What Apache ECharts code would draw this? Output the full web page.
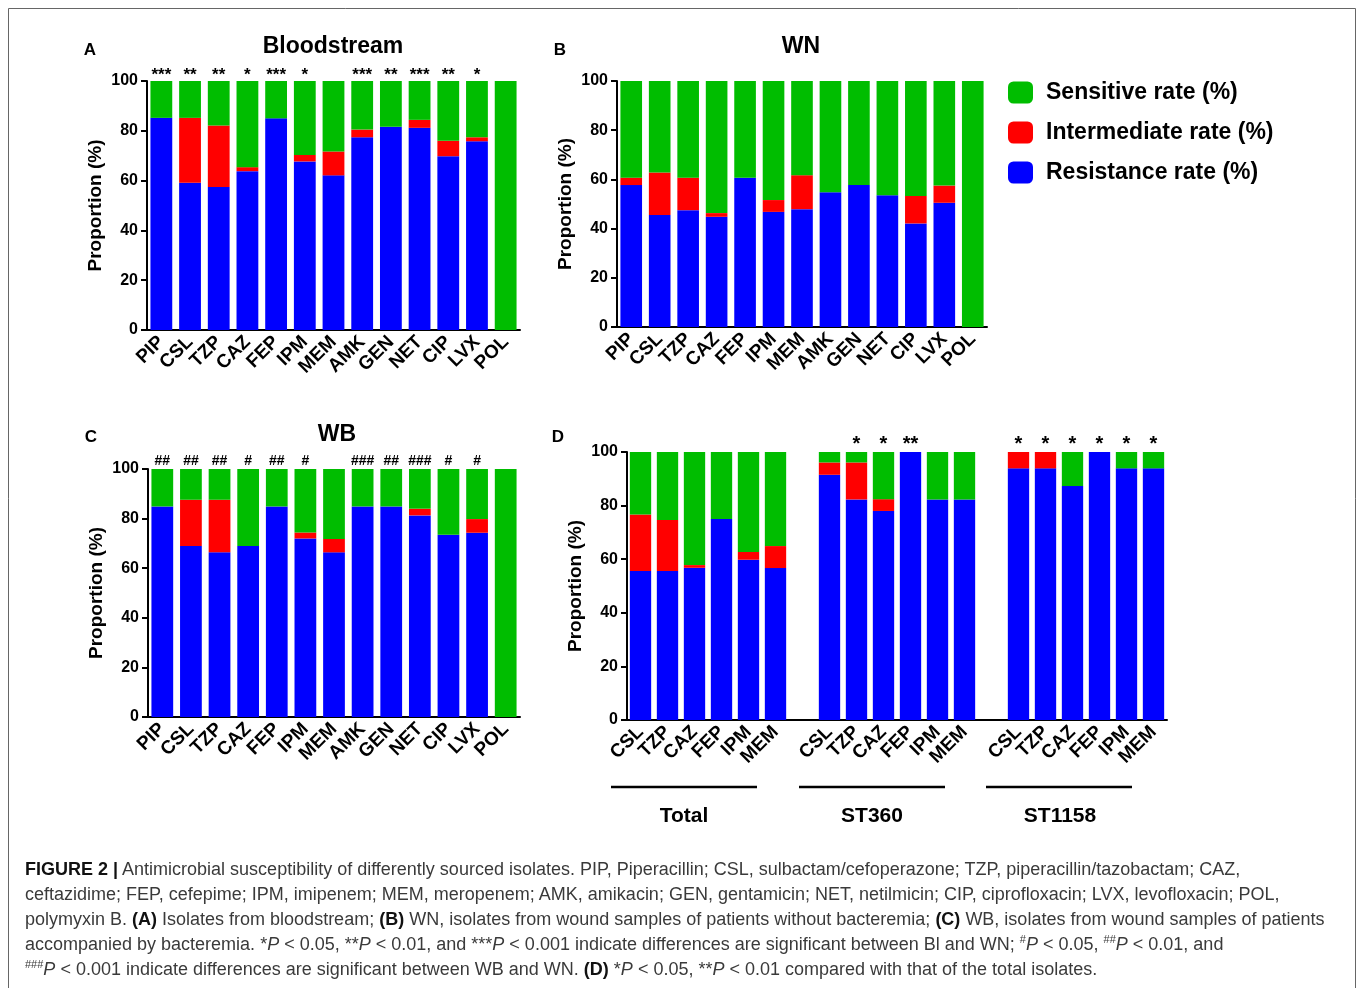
<!DOCTYPE html>
<html>
<head>
<meta charset="utf-8">
<script src="https://cdn.jsdelivr.net/npm/echarts@6/dist/echarts.min.js"></script>
<style>
  body { margin: 0; background: #fff; }
  #chart { position: absolute; left: 0; top: 0; width: 1358px; height: 988px; }
  #caption {
    position: absolute; left: 25px; top: 857px;
    font-family: "Liberation Sans", Arial, sans-serif; font-size: 18px; line-height: 25px;
    color: #3a3a3a; white-space: nowrap;
  }
  #caption b { color: #111; }
  #caption sup { font-size: 11px; line-height: 0; }
</style>
</head>
<body>
<div id="chart"></div>
<div id="caption">
<b>FIGURE 2 |</b> Antimicrobial susceptibility of differently sourced isolates. PIP, Piperacillin; CSL, sulbactam/cefoperazone; TZP, piperacillin/tazobactam; CAZ,<br>
ceftazidime; FEP, cefepime; IPM, imipenem; MEM, meropenem; AMK, amikacin; GEN, gentamicin; NET, netilmicin; CIP, ciprofloxacin; LVX, levofloxacin; POL,<br>
polymyxin B. <b>(A)</b> Isolates from bloodstream; <b>(B)</b> WN, isolates from wound samples of patients without bacteremia; <b>(C)</b> WB, isolates from wound samples of patients<br>
accompanied by bacteremia. *<i>P</i> &lt; 0.05, **<i>P</i> &lt; 0.01, and ***<i>P</i> &lt; 0.001 indicate differences are significant between Bl and WN; <sup>#</sup><i>P</i> &lt; 0.05, <sup>##</sup><i>P</i> &lt; 0.01, and<br>
<sup>###</sup><i>P</i> &lt; 0.001 indicate differences are significant between WB and WN. <b>(D)</b> *<i>P</i> &lt; 0.05, **<i>P</i> &lt; 0.01 compared with that of the total isolates.
</div>
<script>
// drug names for panels A-C
const drugs = ['PIP', 'CSL', 'TZP', 'CAZ', 'FEP', 'IPM', 'MEM', 'AMK', 'GEN', 'NET', 'CIP', 'LVX', 'POL'];
const yTicks = [0, 20, 40, 60, 80, 100];

// A: bloodstream
const bloodRes = [85.2, 59.1, 57.4, 63.8, 85.0, 67.7, 62.1, 77.4, 81.6, 81.2, 69.8, 75.8, 0];
const bloodInt = [0, 26.1, 24.7, 1.6, 0, 2.6, 9.6, 3.1, 0, 3.2, 6.2, 1.6, 0];
const bloodSen = [14.8, 14.8, 17.9, 34.6, 15.0, 29.7, 28.3, 19.5, 18.4, 15.6, 24.0, 22.6, 100];
const bloodSig = ['***', '**', '**', '*', '***', '*', '', '***', '**', '***', '**', '*', ''];

// B: WN
const wnRes = [57.7, 45.5, 47.5, 44.8, 60.7, 46.8, 47.9, 54.8, 57.7, 53.6, 42.1, 50.5, 0];
const wnInt = [3.0, 17.3, 13.2, 1.5, 0, 4.8, 13.8, 0, 0, 0, 11.2, 7.0, 0];
const wnSen = [39.3, 37.2, 39.3, 53.7, 39.3, 48.4, 38.3, 45.2, 42.3, 46.4, 46.7, 42.5, 100];

// C: WB
const wbRes = [84.9, 69.0, 66.4, 69.0, 84.9, 72.0, 66.4, 84.9, 84.9, 81.3, 73.5, 74.3, 0];
const wbInt = [0, 18.6, 21.2, 0, 0, 2.4, 5.4, 0, 0, 2.7, 0, 5.5, 0];
const wbSen = [15.1, 12.4, 12.4, 31.0, 15.1, 25.6, 28.2, 15.1, 15.1, 16.0, 26.5, 20.2, 100];
const wbSig = ['##', '##', '##', '#', '##', '#', '', '###', '##', '###', '#', '#', ''];

// D: by sequence type
const dDrugs = ['CSL', 'TZP', 'CAZ', 'FEP', 'IPM', 'MEM'];
const dGroups = ['Total', 'ST360', 'ST1158'];
const totalRes = [55.6, 55.6, 56.8, 75.0, 59.8, 56.7];
const totalInt = [21.1, 19.0, 1.0, 0, 2.9, 8.2];
const totalSen = [23.3, 25.4, 42.2, 25.0, 37.3, 35.1];
const totalSig = ['', '', '', '', '', ''];
const st360Res = [91.5, 82.3, 78.0, 100, 82.3, 82.3];
const st360Int = [4.6, 13.8, 4.4, 0, 0, 0];
const st360Sen = [3.9, 3.9, 17.6, 0, 17.7, 17.7];
const st360Sig = ['', '*', '*', '**', '', ''];
const st1158Res = [93.9, 93.9, 87.3, 100, 93.9, 93.9];
const st1158Int = [6.1, 6.1, 0, 0, 0, 0];
const st1158Sen = [0, 0, 12.7, 0, 6.1, 6.1];
const st1158Sig = ['*', '*', '*', '*', '*', '*'];

const FONT = '"Liberation Sans", Arial, sans-serif';
const GREEN = '#00bd00', RED = '#ff0000', BLUE = '#0000ff';

// join the three groups of D with an empty slot between them
function joinD(a, b, c, gap) {
    return a.concat([gap], b, [gap], c);
}
const dCats = joinD(dDrugs, dDrugs, dDrugs, '');
const dRes = joinD(totalRes, st360Res, st1158Res, '-');
const dInt = joinD(totalInt, st360Int, st1158Int, '-');
const dSen = joinD(totalSen, st360Sen, st1158Sen, '-');
const dSig = joinD(totalSig, st360Sig, st1158Sig, '');

function makeX(i, cats) {
    return {
        type: 'category', gridIndex: i, data: cats,
        axisLine: { lineStyle: { color: '#000', width: 2 } },
        axisTick: { length: 6, lineStyle: { color: '#000', width: 2 }, alignWithLabel: true },
        axisLabel: { interval: 0, rotate: 45, margin: 9, color: '#000', fontSize: 19, fontWeight: 'bold', fontFamily: FONT }
    };
}

function makeY(i) {
    return {
        type: 'value', gridIndex: i, min: yTicks[0], max: yTicks[yTicks.length - 1], interval: 20,
        name: 'Proportion (%)', nameLocation: 'middle', nameGap: 42,
        nameTextStyle: { color: '#000', fontSize: 19, fontWeight: 'bold', fontFamily: FONT },
        axisLine: { show: true, lineStyle: { color: '#000', width: 2 } },
        axisTick: { show: true, length: 6, lineStyle: { color: '#000', width: 2 } },
        axisLabel: { margin: 9, color: '#000', fontSize: 16, fontWeight: 'bold', fontFamily: FONT },
        splitLine: { show: false }
    };
}

function makeSeries(i, res, inter, sen, sig, gap, sigSize, sigDist) {
    const base = { type: 'bar', xAxisIndex: i, yAxisIndex: i, stack: 'p' + i, barCategoryGap: gap };
    return [
        Object.assign({}, base, { name: 'Resistance rate (%)', data: res, itemStyle: { color: BLUE } }),
        Object.assign({}, base, { name: 'Intermediate rate (%)', data: inter, itemStyle: { color: RED } }),
        Object.assign({}, base, {
            name: 'Sensitive rate (%)', data: sen, itemStyle: { color: GREEN },
            label: {
                show: !!sig, position: 'top', distance: sigDist, color: '#000',
                fontSize: sigSize, fontWeight: 'bold', fontFamily: FONT,
                formatter: p => (sig ? sig[p.dataIndex] : '')
            }
        })
    ];
}

function txt(x, y, text, size) {
    return {
        type: 'text', x: x, y: y,
        style: { text: text, fill: '#000', font: 'bold ' + size + 'px ' + FONT, align: 'center', verticalAlign: 'middle' }
    };
}

function bracket(x1, x2, y) {
    return { type: 'line', shape: { x1: x1, y1: y, x2: x2, y2: y }, style: { stroke: '#000', lineWidth: 2.5 } };
}

const chart = echarts.init(document.getElementById('chart'));

const option = {
    animation: false,
    textStyle: { fontFamily: FONT },
    legend: {
        data: ['Sensitive rate (%)', 'Intermediate rate (%)', 'Resistance rate (%)'],
        orient: 'vertical', left: 1003, top: 76,
        itemWidth: 25, itemHeight: 22, itemGap: 17, icon: 'roundRect',
        selectedMode: false,
        textStyle: { color: '#000', fontSize: 23, fontWeight: 'bold', fontFamily: FONT, padding: [0, 0, 0, 8] }
    },
    grid: [
        { left: 147, top: 81, width: 373, height: 249 },
        { left: 617, top: 81, width: 370, height: 246 },
        { left: 148, top: 469, width: 372, height: 248 },
        { left: 627, top: 452, width: 540, height: 268 }
    ],
    xAxis: [makeX(0, drugs), makeX(1, drugs), makeX(2, drugs), makeX(3, dCats)],
    yAxis: [makeY(0), makeY(1), makeY(2), makeY(3)],
    series: [].concat(
        makeSeries(0, bloodRes, bloodInt, bloodSen, bloodSig, '24%', 17, -3),
        makeSeries(1, wnRes, wnInt, wnSen, null, '24%', 17, 0),
        makeSeries(2, wbRes, wbInt, wbSen, wbSig, '24%', 14, 1),
        makeSeries(3, dRes, dInt, dSen, dSig, '21%', 20, -2)
    ),
    graphic: [
        { type: 'rect', z: -10, shape: { x: 8.5, y: 8.5, width: 1347, height: 1010 }, style: { fill: 'none', stroke: '#666', lineWidth: 1 } },
        txt(90, 50, 'A', 17), txt(333, 47, 'Bloodstream', 23),
        txt(560, 50, 'B', 17), txt(801, 47, 'WN', 23),
        txt(91, 437, 'C', 17), txt(337, 435, 'WB', 23),
        txt(558, 437, 'D', 17),
        bracket(611, 757, 787), bracket(799, 945, 787), bracket(986, 1132, 787),
        txt(684, 816, dGroups[0], 21), txt(872, 816, dGroups[1], 21), txt(1060, 816, dGroups[2], 21)
    ]
};

chart.setOption(option);
</script>
</body>
</html>
